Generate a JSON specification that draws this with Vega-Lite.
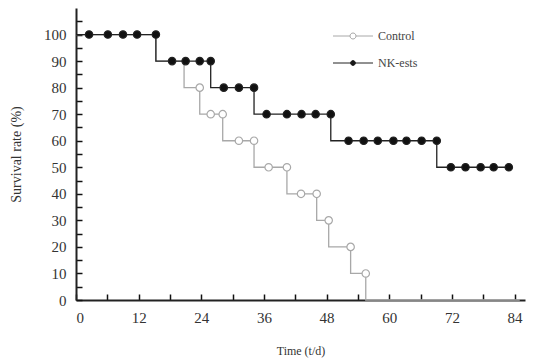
{
  "$schema": "https://vega.github.io/schema/vega-lite/v6.json",
  "width": 449,
  "height": 292,
  "autosize": {"type": "none"},
  "padding": {"left": 76, "top": 8, "right": 9, "bottom": 64},
  "background": "white",
  "config": {
    "view": {"stroke": null},
    "font": "Liberation Serif",
    "axis": {"grid": false, "domainColor": "#222", "domainWidth": 2, "ticks": true, "tickColor": "#111", "tickWidth": 1.5, "labelOverlap": false, "labelFont": "Liberation Serif", "titleFont": "Liberation Serif", "labelColor": "#333", "titleColor": "#333", "titleFontWeight": "normal"},
    "legend": {"orient": "none", "legendX": 287, "legendY": 22, "title": null, "symbolSize": 64, "symbolStrokeWidth": 1,
      "labelFont": "Liberation Serif", "labelFontSize": 12, "labelColor": "#444", "rowPadding": 15, "labelOffset": 3}
  },
  "datasets": {
    "curve": [
      {"group": "Control", "day": 0, "rate": 100},
      {"group": "Control", "day": 15.3, "rate": 90},
      {"group": "Control", "day": 20.7, "rate": 80},
      {"group": "Control", "day": 23.7, "rate": 70},
      {"group": "Control", "day": 28.1, "rate": 60},
      {"group": "Control", "day": 34.1, "rate": 50},
      {"group": "Control", "day": 40.4, "rate": 40},
      {"group": "Control", "day": 46.1, "rate": 30},
      {"group": "Control", "day": 48.4, "rate": 20},
      {"group": "Control", "day": 52.6, "rate": 10},
      {"group": "Control", "day": 55.5, "rate": 0},
      {"group": "Control", "day": 85, "rate": 0},
      {"group": "NK-ests", "day": 0, "rate": 100},
      {"group": "NK-ests", "day": 15.3, "rate": 90},
      {"group": "NK-ests", "day": 25.8, "rate": 80},
      {"group": "NK-ests", "day": 34.1, "rate": 70},
      {"group": "NK-ests", "day": 48.8, "rate": 60},
      {"group": "NK-ests", "day": 69.1, "rate": 50},
      {"group": "NK-ests", "day": 82.9, "rate": 50}
    ],
    "points": [
      {"group": "Control", "day": 23.7, "rate": 80},
      {"group": "Control", "day": 25.8, "rate": 70},
      {"group": "Control", "day": 28.1, "rate": 70},
      {"group": "Control", "day": 31.2, "rate": 60},
      {"group": "Control", "day": 34.1, "rate": 60},
      {"group": "Control", "day": 36.9, "rate": 50},
      {"group": "Control", "day": 40.4, "rate": 50},
      {"group": "Control", "day": 43.1, "rate": 40},
      {"group": "Control", "day": 46.1, "rate": 40},
      {"group": "Control", "day": 48.4, "rate": 30},
      {"group": "Control", "day": 52.6, "rate": 20},
      {"group": "Control", "day": 55.5, "rate": 10},
      {"group": "NK-ests", "day": 2.5, "rate": 100},
      {"group": "NK-ests", "day": 6.1, "rate": 100},
      {"group": "NK-ests", "day": 9, "rate": 100},
      {"group": "NK-ests", "day": 11.7, "rate": 100},
      {"group": "NK-ests", "day": 15.3, "rate": 100},
      {"group": "NK-ests", "day": 18.4, "rate": 90},
      {"group": "NK-ests", "day": 21, "rate": 90},
      {"group": "NK-ests", "day": 23.7, "rate": 90},
      {"group": "NK-ests", "day": 25.8, "rate": 90},
      {"group": "NK-ests", "day": 28.3, "rate": 80},
      {"group": "NK-ests", "day": 31.2, "rate": 80},
      {"group": "NK-ests", "day": 34.1, "rate": 80},
      {"group": "NK-ests", "day": 36.5, "rate": 70},
      {"group": "NK-ests", "day": 40.4, "rate": 70},
      {"group": "NK-ests", "day": 43.2, "rate": 70},
      {"group": "NK-ests", "day": 45.9, "rate": 70},
      {"group": "NK-ests", "day": 48.8, "rate": 70},
      {"group": "NK-ests", "day": 52.2, "rate": 60},
      {"group": "NK-ests", "day": 55.1, "rate": 60},
      {"group": "NK-ests", "day": 57.8, "rate": 60},
      {"group": "NK-ests", "day": 60.8, "rate": 60},
      {"group": "NK-ests", "day": 63.3, "rate": 60},
      {"group": "NK-ests", "day": 66.2, "rate": 60},
      {"group": "NK-ests", "day": 69.1, "rate": 60},
      {"group": "NK-ests", "day": 71.8, "rate": 50},
      {"group": "NK-ests", "day": 74.6, "rate": 50},
      {"group": "NK-ests", "day": 77.5, "rate": 50},
      {"group": "NK-ests", "day": 80, "rate": 50},
      {"group": "NK-ests", "day": 82.9, "rate": 50}
    ]
  },
  "encoding": {
    "x": {"field": "day", "type": "quantitative", "scale": {"domain": [0, 86], "nice": false},
      "axis": {"title": "Time (t/d)", "values": [0, 6, 12, 18, 24, 30, 36, 42, 48, 54, 60, 66, 72, 78, 84],
        "labelExpr": "datum.value % 12 === 0 ? datum.label : ''", "labelOverlap": false, "ticks": true,
        "tickSize": -6,
        "labelPadding": 16, "labelFontSize": 15, "titleFontSize": 12, "titlePadding": 20}},
    "y": {"field": "rate", "type": "quantitative", "scale": {"domain": [0, 110], "nice": false},
      "axis": {"title": "Survival rate (%)", "values": [0, 5, 10, 15, 20, 25, 30, 35, 40, 45, 50, 55, 60, 65, 70, 75, 80, 85, 90, 95, 100, 105],
        "labelExpr": "datum.value % 10 === 0 && datum.value <= 100 ? datum.label : ''", "labelOverlap": false, "ticks": true,
        "tickSize": -6,
        "labelPadding": 16, "labelFontSize": 15, "titleFontSize": 14, "titlePadding": 20}},
    "stroke": {"field": "group", "type": "nominal", "scale": {"domain": ["Control", "NK-ests"], "range": ["#a8a8a8", "#222"]},
      "legend": {"labelFont": "Liberation Serif", "encode": {"symbols": {"update": {"shape": {"signal": "datum.value === 'Control' ? 'M-9,0H-4.75M-3.25,0H1M-3.25,0A0.75,0.75 0 1,1 -4.75,0A0.75,0.75 0 1,1 -3.25,0' : 'M-9,0H1M-3.4,0A0.6,0.6 0 1,1 -4.6,0A0.6,0.6 0 1,1 -3.4,0'"}}}}}}
  },
  "layer": [
    {
      "data": {"name": "curve"},
      "mark": {"type": "line", "interpolate": "step-after", "strokeWidth": 1.3},
      "encoding": {
        "detail": {"field": "group"}
      }
    },
    {
      "data": {"name": "points"},
      "mark": {"type": "point", "shape": "circle", "size": 55, "strokeWidth": 1.2, "opacity": 1},
      "encoding": {
        "fill": {"field": "group", "type": "nominal", "scale": {"domain": ["Control", "NK-ests"], "range": ["white", "#111"]},
          "legend": {"labelFont": "Liberation Serif", "encode": {"symbols": {"update": {"shape": {"signal": "datum.value === 'Control' ? 'M-9,0H-4.75M-3.25,0H1M-3.25,0A0.75,0.75 0 1,1 -4.75,0A0.75,0.75 0 1,1 -3.25,0' : 'M-9,0H1M-3.4,0A0.6,0.6 0 1,1 -4.6,0A0.6,0.6 0 1,1 -3.4,0'"}}}}}}
      }
    }
  ]
}
